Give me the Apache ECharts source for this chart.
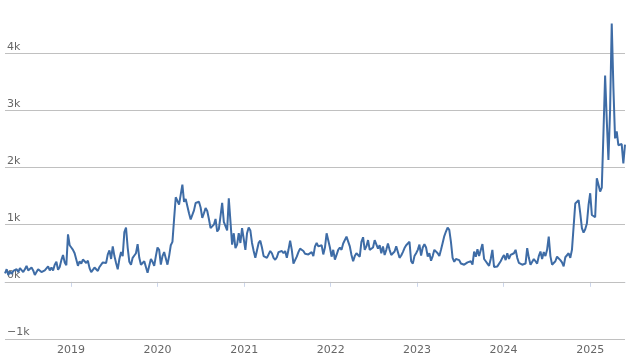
<!DOCTYPE html>
<html>
<head>
<meta charset="utf-8">
<script src="https://cdn.jsdelivr.net/npm/echarts@6/dist/echarts.min.js"></script>
<style>
html,body{margin:0;padding:0;background:#fff;}
#chart{width:633px;height:359px;}
</style>
</head>
<body>
<div id="chart"></div>
<script>
// Weekly values (first week starts 2018-03-28)
const startDate = [2018, 3, 28];
const v2018 = [150,220,120,180,140,190,180,220,170,240, 220,170,220,280,200,170,250,200,120,170,
  220,240,170,200,200,230,270,200,250,200, 300,350,210,260,380,470,340,290,830,640];
const v2019 = [600,560,500,480,280,360,320,390,380,330, 370,240,170,210,250,240,190,260,280,340,
  350,330,480,550,400,620,450,330,220,400, 520,450,870,950,600,350,300,420,450,500,
  660,420,300,330,360,260,160,150,400,350, 280,450];
const v2020 = [600,560,300,450,520,550,300,450,640,700, 1100,1480,1490,1350,1330,1700,1400,1450,1420,1200,
  1090,1100,1250,1380,1400,1400,1300,1120,1200,1290, 1240,1100,940,960,1000,1100,880,920,1150,1380,
  1050,1020,900,1460,1450,650,850,590,650,850, 680,940,750];
const v2021 = [560,850,950,900,680,540,420,450,680,720, 600,450,420,420,450,540,500,420,385,430,
  520,500,540,500,540,420,560,720,560,320, 350,440,520,580,560,540,490,520,480,470,
  520,450,620,680,620,600,640,480,600,850, 840,600];
const v2022 = [440,560,390,470,560,600,560,670,700,790, 780,620,470,360,450,500,530,440,700,780,
  560,620,730,560,560,600,730,700,580,640, 500,620,470,560,670,560,470,440,530,620,
  650,420,460,520,590,640,670,700,360,320, 450,500];
const v2023 = [560,650,460,600,660,600,440,500,370,450, 560,580,500,450,560,680,800,880,950,910,
  700,420,350,400,430,380,320,340,300,320, 340,310,360,300,530,440,570,450,450,660,
  400,360,320,280,400,560,260,240,270,300, 360,420];
const v2024 = [470,380,500,400,470,470,500,560,420,330, 330,300,330,320,590,420,300,290,400,360,
  320,450,530,400,520,450,560,790,450,300, 270,360,440,420,380,340,270,430,440,500,
  420,560,590,1370,1380,1430,1200,940,860,920, 1020,1340];
const v2025 = [1550,1170,1150,1130,1810,1700,1580,1650,2600,3610, 2830,2130,3000,4520,3400,2510,2630,2390,2400,2410,
  2070,2400];

const yearTicks = ['2019','2020','2021','2022','2023','2024','2025'];

const values = [].concat(v2018, v2019, v2020, v2021, v2022, v2023, v2024, v2025);
function pad(n){return (n<10?'0':'')+n;}
const data = values.map((v, k) => {
  const d = new Date(Date.UTC(startDate[0], startDate[1]-1, startDate[2] + 7*k));
  return [d.getUTCFullYear()+'-'+pad(d.getUTCMonth()+1)+'-'+pad(d.getUTCDate()), v];
});

const chart = echarts.init(document.getElementById('chart'), null, {renderer:'canvas'});
const font = 'DejaVu Sans';
chart.setOption({
  animation: false,
  grid: {left: 5, right: 8, top: -4, bottom: 20, containLabel: false, outerBoundsMode: 'none'},
  xAxis: {
    type: 'time',
    min: data[0][0],
    max: data[data.length-1][0],
    minInterval: 365*24*3600*1000,
    maxInterval: 366*24*3600*1000,
    axisLine: {show: true, lineStyle: {color: '#ccd6eb', width: 1}},
    axisTick: {show: true, length: 5, lineStyle: {color: '#ccd6eb'}},
    splitLine: {show: false},
    axisLabel: {
      color: '#666', fontFamily: font, fontSize: 11, margin: 6,
      showMinLabel: false, showMaxLabel: false,
      formatter: function(val){
        const y = String(new Date(val).getFullYear());
        return yearTicks.indexOf(y) >= 0 ? y : '';
      }
    }
  },
  yAxis: {
    type: 'value',
    min: -1000, max: 5000, interval: 1000,
    axisLine: {show: false},
    axisTick: {show: false},
    splitLine: {show: true, lineStyle: {color: '#c0c0c0', width: 1}},
    axisLabel: {
      inside: true, margin: 2, verticalAlign: 'bottom', padding: [0,0,1,0],
      color: '#666', fontFamily: font, fontSize: 11,
      formatter: function(v){ return (v < 0 ? '\u2212' : '') + Math.abs(v/1000) + 'k'; }
    },
    z: 1
  },
  series: [{
    type: 'line',
    data: data,
    showSymbol: false,
    symbol: 'none',
    lineStyle: {color: '#3e6ca6', width: 2},
    itemStyle: {color: '#3e6ca6'},
    z: 3
  }]
});
</script>
</body>
</html>
